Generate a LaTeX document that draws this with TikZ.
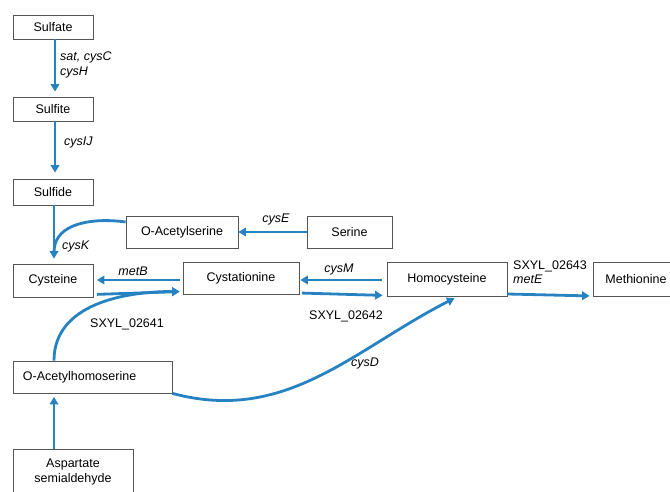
\documentclass[tikz,border=0pt]{standalone}
\usepackage{fontspec}
\setmainfont{Liberation Sans}
\usetikzlibrary{arrows.meta,positioning}
\definecolor{pathblue}{RGB}{38,130,192}
\definecolor{boxgray}{RGB}{85,85,85}

\begin{document}
\begin{tikzpicture}[x=1pt,y=1pt,
box/.style={draw=boxgray, line width=0.8pt, fill=white, inner sep=0pt,
font=\fontsize{12.5}{14.5}\selectfont, align=center},
lab/.style={inner sep=0pt, font=\fontsize{12.5}{14.5}\selectfont\itshape},
gene/.style={inner sep=0pt, font=\fontsize{12.5}{14.5}\selectfont},
arrow/.style={-{Triangle[length=7.5pt,width=8.5pt]}, line width=2.8pt, draw=pathblue}
]
\useasboundingbox (0,0) rectangle (670,-492);

\node[box, minimum width=80pt, minimum height=24pt] (sulfate) at (53,-27) {Sulfate};
\node[box, minimum width=80pt, minimum height=24pt] (sulfite) at (53,-109) {Sulfite};
\node[box, minimum width=80pt, minimum height=26pt] (sulfide) at (53,-192) {Sulfide};
\node[box, minimum width=112pt, minimum height=32pt] (oas) at (182,-232) {O-Acetylserine};
\node[box, minimum width=85pt, minimum height=32pt] (serine) at (349.5,-232) {Serine};
\node[box, minimum width=80pt, minimum height=33pt] (cysteine) at (53,-280.5) {Cysteine};
\node[box, minimum width=116pt, minimum height=32pt] (cyst) at (241,-278) {Cystationine};
\node[box, minimum width=120pt, minimum height=34pt] (homo) at (447,-279) {Homocysteine};
\node[box, minimum width=86pt, minimum height=34pt] (met) at (636,-279) {Methionine};
\node[box, minimum height=32pt, text width=139pt, inner xsep=10pt, align=left] (oah) at (92.5,-377) {O-Acetylhomoserine};
\node[box, minimum width=120pt, minimum height=46pt] (asp) at (73,-472) {Aspartate\\semialdehyde};

% sulfate branch
\draw[arrow, shorten >=5pt] ([xshift=2pt]sulfate.south) -- ([xshift=2pt]sulfite.north);
\node[lab, anchor=west, align=left] (l1) at (60,-65) {sat, cysC\\cysH};
\draw[arrow, shorten >=6pt] ([xshift=2pt]sulfite.south) -- ([xshift=2pt]sulfide.north);
\node[lab, anchor=west] (l2) at (64,-142) {cysIJ};
\draw[arrow, shorten >=5pt] ([xshift=1pt]sulfide.south) -- ([xshift=1pt]cysteine.north);
\coordinate (join1) at (54,-252);
\draw[line width=2.8pt, pathblue] ([yshift=10pt]oas.west) to[out=172,in=90] (join1);
\node[lab, anchor=west] (l3) at (62,-246) {cysK};

\draw[arrow] (serine.west) -- (oas.east);
\node[lab] (l4) at (276,-219) {cysE};

% cystationine
\draw[arrow, shorten <=3pt, shorten >=3.5pt] ([yshift=-2pt]cyst.west) -- ([yshift=0.5pt]cysteine.east);
\node[lab] (l5) at (133,-271) {metB};
\draw[arrow, shorten <=3.5pt, shorten >=3pt] ([yshift=-14pt]cysteine.east) -- ([yshift=-13.5pt]cyst.west);
\draw[arrow, shorten >=3pt] ([xshift=-38.5pt]oah.north) to[out=90,in=180] ([yshift=-13.5pt]cyst.west);
\node[gene] (l6) at (127,-324) {SXYL\_02641};

\draw[arrow, shorten <=5pt, shorten >=1pt] ([yshift=-1pt]homo.west) -- ([yshift=-2pt]cyst.east);
\node[lab] (l7) at (339,-269) {cysM};
\draw[arrow, shorten <=2.5pt, shorten >=4pt] ([yshift=-15pt]cyst.east) -- ([yshift=-16.5pt]homo.west);
\node[gene] (l8) at (346,-316) {SXYL\_02642};

% methionine
\draw[arrow, shorten >=3pt] ([yshift=-15pt]homo.east) -- ([yshift=-17pt]met.west);
\node[gene, anchor=west, align=left] (l9) at (513,-272) {SXYL\_02643\\\itshape metE};

\draw[arrow, shorten >=4pt] (oah.south east) to[out=-15,in=207] ([xshift=11pt]homo.south);
\node[lab] (l10) at (365,-363) {cysD};

\draw[arrow, shorten >=3.5pt] ([xshift=-19pt]asp.north) -- ([xshift=-38.5pt]oah.south);

\end{tikzpicture}
\end{document}
